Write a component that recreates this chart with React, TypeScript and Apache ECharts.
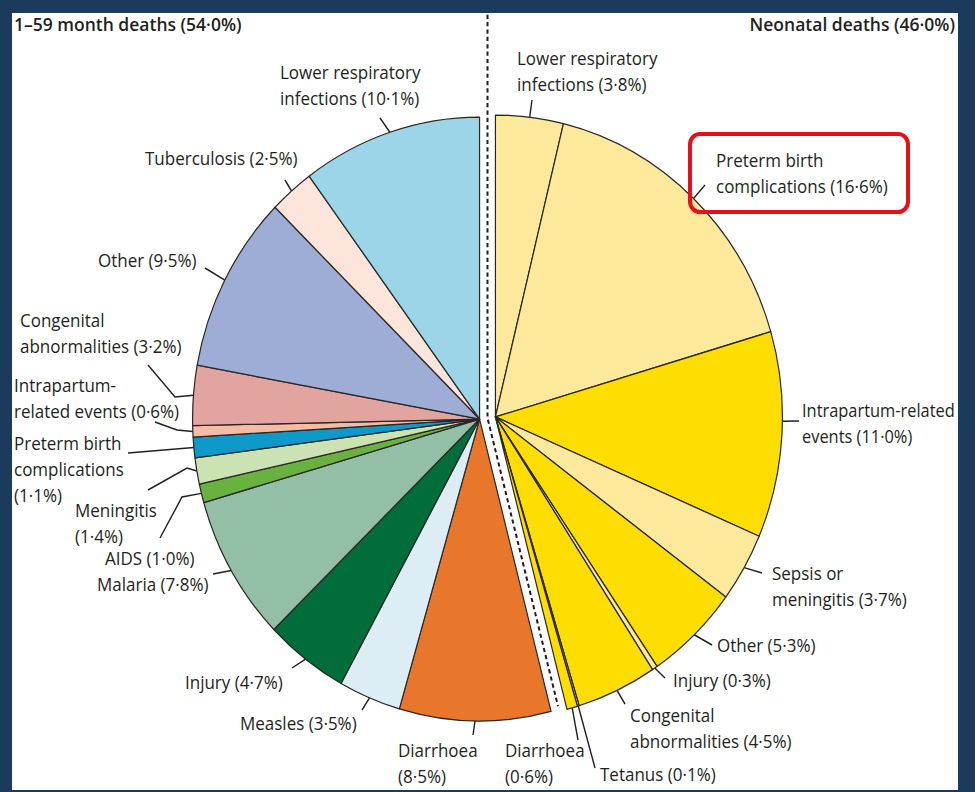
import React, { useEffect, useRef } from 'react';
import * as echarts from 'echarts';

// ---------- data ----------
const titleLeft = '1–59 month deaths (54·0%)';
const titleRight = 'Neonatal deaths (46·0%)';

const neonatalNames = [
  'Lower respiratory infections', 'Preterm birth complications', 'Intrapartum-related events',
  'Sepsis or meningitis', 'Other', 'Injury', 'Congenital abnormalities', 'Tetanus', 'Diarrhoea',
];
const neonatalValues = [3.8, 16.6, 11.0, 3.7, 5.3, 0.3, 4.5, 0.1, 0.6];
const neonatalLabelText = [
  'Lower respiratory\ninfections ', 'Preterm birth\ncomplications ', 'Intrapartum-related\nevents ',
  'Sepsis or\nmeningitis ', 'Other ', 'Injury ', 'Congenital\nabnormalities ', 'Tetanus ', 'Diarrhoea\n',
];

const childNames = [
  'Diarrhoea', 'Measles', 'Injury', 'Malaria', 'AIDS', 'Meningitis', 'Preterm birth complications',
  'Intrapartum-related events', 'Congenital abnormalities', 'Other', 'Tuberculosis', 'Lower respiratory infections',
];
const childValues = [8.5, 3.5, 4.7, 7.8, 1.0, 1.4, 1.1, 0.6, 3.2, 9.5, 2.5, 10.1];
const childLabelText = [
  'Diarrhoea\n', 'Measles ', 'Injury ', 'Malaria ', 'AIDS ', 'Meningitis\n', 'Preterm birth\ncomplications\n',
  'Intrapartum-\nrelated events ', 'Congenital\nabnormalities ', 'Other ', 'Tuberculosis ', 'Lower respiratory\ninfections ',
];

// ---------- styles ----------
const neonatalColors = ['#fde99c', '#fde99c', '#fedd00', '#fde99c', '#fedd00', '#fde99c', '#fedd00', '#fde99c', '#fedd00'];
const childColors = ['#e8762b', '#dcedf5', '#006d3a', '#93bfa6', '#69b23f', '#cbe3b3', '#0d9acb', '#f6bba4', '#e2a49f', '#9eadd6', '#fde5dc', '#9dd5e8'];

const NAVY = '#1b3a5c';
const INK = '#231f20';
const FONT = "'Open Sans', 'DejaVu Sans', sans-serif";
const W = 975;
const H = 792;
const K = 1.052; // vertical stretch of the original figure
const LH = 26; // label line height (page px)

// label placement in page coordinates: x, centre of first line, leader bend/end points
type LabelSpec = { x: number; y: number; pts: number[][]; edge?: number; size?: number };
const neonatalLabelPos: LabelSpec[] = [
  { x: 517, y: 58, pts: [[532, 100]] },
  { x: 716, y: 160, pts: [[705, 185]] },
  { x: 802, y: 410, edge: 90.8, size: 16.4, pts: [[799, 421]] },
  { x: 772, y: 573, pts: [[762, 573]] },
  { x: 717, y: 645, pts: [[712, 645]] },
  { x: 673, y: 680, pts: [[665, 678]] },
  { x: 630, y: 715, pts: [[625, 704]] },
  { x: 600, y: 774, pts: [[595, 768]] },
  { x: 505, y: 750, pts: [[578, 740]] },
];
const childLabelPos: LabelSpec[] = [
  { x: 398, y: 750, pts: [[473, 735]] },
  { x: 240, y: 723, pts: [[362, 710]] },
  { x: 185, y: 682, pts: [[292, 668]] },
  { x: 97, y: 584, pts: [[213, 574]] },
  { x: 105, y: 558, pts: [[182, 497], [160, 538]] },
  { x: 75, y: 510, pts: [[187, 468], [148, 490]] },
  { x: 14, y: 443, pts: [[128, 453]] },
  { x: 14, y: 385, pts: [[177, 430], [155, 422]] },
  { x: 20, y: 320, pts: [[175, 397], [148, 365]] },
  { x: 98, y: 260, pts: [[205, 268]] },
  { x: 145, y: 158, pts: [[285, 180]] },
  { x: 280, y: 72, pts: [[380, 118]] },
];

const sum = (a: number[]) => a.reduce((s, v) => s + v, 0);
const fmt = (v: number) => v.toFixed(1).replace('.', '·');
const RAD = Math.PI / 180;

export default function App() {
  const ref = useRef<HTMLDivElement>(null);

  useEffect(() => {
    document.body.style.margin = '0';
    const el = ref.current!;
    const chart = echarts.init(el, null, { renderer: 'svg', width: W, height: H / K });

    const neoSum = sum(neonatalValues);
    const childSum = sum(childValues);
    const split = (360 * neoSum) / (neoSum + childSum); // degrees clockwise from 12 o'clock
    const R = 287;
    const gap = 8;
    const base = [487.5, 418 / K];
    const b1 = (split / 2) * RAD;
    const b2 = ((split + 360) / 2) * RAD;
    const neoCenter = [base[0] + gap * Math.sin(b1), base[1] - gap * Math.cos(b1)];
    const childCenter = [base[0] + gap * Math.sin(b2), base[1] - gap * Math.cos(b2)];

    const makeLayout = (specs: LabelSpec[], center: number[]) => (params: any) => {
      const s = specs[params.dataIndex];
      if (!s) return {};
      let start: number[] | null = null;
      const p0 = params.labelLinePoints && params.labelLinePoints[0];
      if (p0 && s.edge == null) start = [p0[0], p0[1]];
      if (!start) {
        const a = (s.edge != null ? s.edge : 0) * RAD;
        start = [center[0] + R * Math.sin(a), center[1] - R * Math.cos(a)];
      }
      const pts = s.pts.map((p) => [p[0], p[1] / K]);
      while (pts.length < 2) pts.push(pts[pts.length - 1].slice());
      const out: any = {
        x: s.x,
        y: (s.y - LH / 2) / K,
        align: 'left',
        verticalAlign: 'top',
        labelLinePoints: [start, ...pts],
      };
      if (s.size) out.fontSize = s.size;
      return out;
    };

    const common = {
      type: 'pie',
      radius: R,
      clockwise: true,
      avoidLabelOverlap: false,
      silent: true,
      emphasis: { disabled: true },
      itemStyle: { borderColor: '#2a2624', borderWidth: 1.2 },
      label: {
        show: true,
        position: 'outside',
        alignTo: 'none',
        overflow: 'none',
        fontFamily: FONT,
        fontSize: 17,
        lineHeight: LH / K,
        color: INK,
      },
      labelLine: {
        show: true,
        length: 10,
        length2: 10,
        smooth: false,
        lineStyle: { color: INK, width: 1.4 },
      },
    };

    chart.setOption({
      animation: false,
      backgroundColor: 'transparent',
      series: [
        {
          ...common,
          name: 'Neonatal deaths',
          center: neoCenter,
          startAngle: 90,
          endAngle: 90 - split,
          data: neonatalValues.map((v, i) => ({
            name: neonatalNames[i],
            value: v,
            itemStyle: { color: neonatalColors[i] },
          })),
          label: {
            ...common.label,
            formatter: (p: any) => neonatalLabelText[p.dataIndex] + '(' + fmt(p.value) + '%)',
          },
          labelLayout: makeLayout(neonatalLabelPos, neoCenter),
        },
        {
          ...common,
          name: '1–59 month deaths',
          center: childCenter,
          startAngle: 90 - split,
          endAngle: -270,
          data: childValues.map((v, i) => ({
            name: childNames[i],
            value: v,
            itemStyle: { color: childColors[i] },
          })),
          label: {
            ...common.label,
            formatter: (p: any) => childLabelText[p.dataIndex] + '(' + fmt(p.value) + '%)',
          },
          labelLayout: makeLayout(childLabelPos, childCenter),
        },
      ],
      graphic: [
        {
          type: 'polyline',
          z: 20,
          silent: true,
          shape: {
            points: [
              [base[0], 0],
              [base[0], base[1]],
              [base[0] + 283 * Math.sin(split * RAD), base[1] - 283 * Math.cos(split * RAD)],
            ],
          },
          style: { stroke: '#1e1e1e', lineWidth: 2, lineDash: [4, 3], fill: 'none' },
        },
        {
          type: 'text',
          z: 20,
          x: 14,
          y: 24 / K,
          style: {
            text: titleLeft,
            font: `600 17.5px ${FONT}`,
            fill: INK,
            align: 'left',
            verticalAlign: 'middle',
          },
        },
        {
          type: 'text',
          z: 20,
          x: 955,
          y: 24 / K,
          style: {
            text: titleRight,
            font: `600 17.5px ${FONT}`,
            fill: INK,
            align: 'right',
            verticalAlign: 'middle',
          },
        },
        {
          type: 'rect',
          z: 20,
          silent: true,
          shape: { x: 690, y: 134 / K, width: 218, height: 78 / K, r: 10 },
          style: { fill: 'none', stroke: '#e5101a', lineWidth: 4 },
        },
      ],
    });

    return () => chart.dispose();
  }, []);

  return (
    <div style={{ position: 'fixed', left: 0, top: 0, width: W, height: H, background: NAVY, overflow: 'hidden' }}>
      <div
        style={{
          position: 'absolute',
          left: 12,
          top: 13,
          width: 946,
          height: 777,
          background: '#ffffff',
          overflow: 'hidden',
        }}
      >
        <div
          ref={ref}
          style={{
            position: 'absolute',
            left: -12,
            top: -13,
            width: W,
            height: H / K,
            transform: `scaleY(${K})`,
            transformOrigin: '0 0',
          }}
        />
      </div>
    </div>
  );
}
